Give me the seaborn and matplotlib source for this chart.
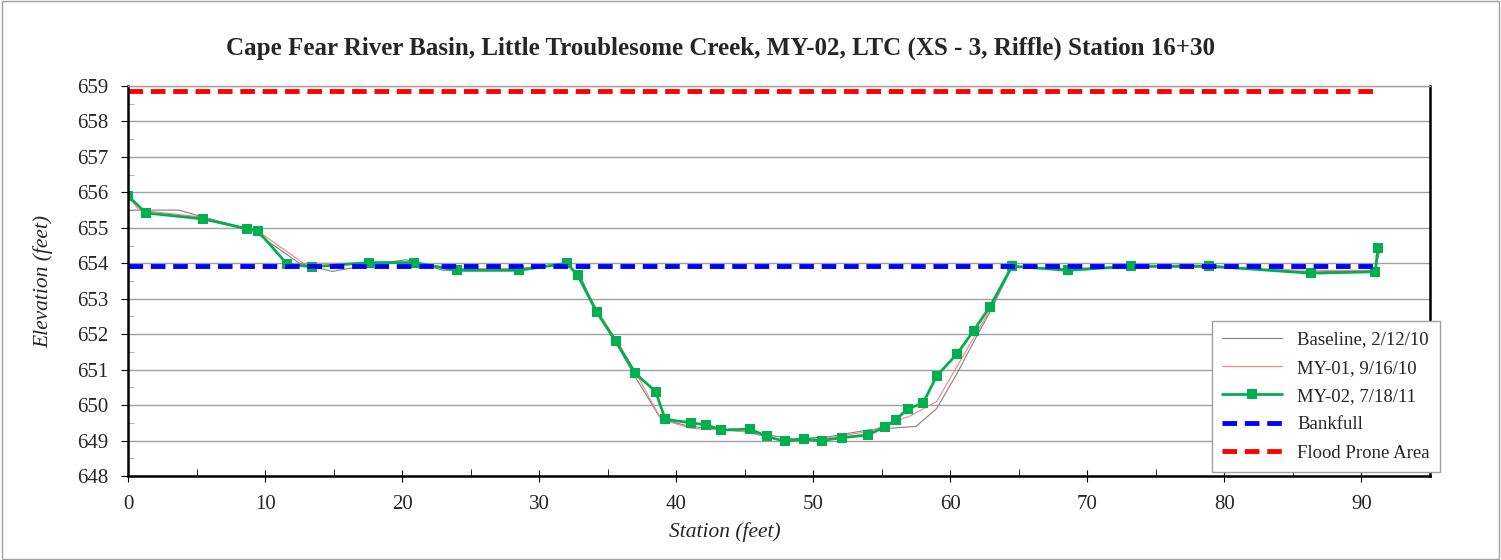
import matplotlib
matplotlib.use("Agg")
import matplotlib.pyplot as plt
from matplotlib.ticker import MultipleLocator
import seaborn as sns
import pandas as pd

# Baseline survey, 2/12/10
base_sta = [0.0, 3.7, 6.0, 9.0, 12.5, 14.9, 17.5, 20.3, 23.0, 28.5, 32.0, 33.0, 34.2, 35.6,
            37.0, 38.9, 41.0, 45.0, 48.5, 51.0, 54.0, 57.5, 59.0, 60.5, 62.0, 63.0, 64.5,
            68.6, 73.2, 79.0, 86.3, 91.0, 91.3]
base_elev = [655.5, 655.5, 655.25, 654.95, 654.0, 653.77, 653.95, 654.1, 653.8, 653.85, 654.0,
             653.65, 652.6, 651.75, 650.8, 649.6, 649.4, 649.25, 649.05, 649.1, 649.3, 649.4,
             649.9, 650.9, 652.0, 652.7, 653.9, 653.85, 653.9, 653.9, 653.75, 653.8, 654.3]

# MY-01, 9/16/10
my01_sta = [0.0, 0.8, 5.5, 8.7, 9.5, 12.8, 17.6, 21.0, 24.0, 28.5, 32.0, 32.8, 34.2, 35.6,
            37.0, 38.9, 41.0, 45.0, 47.7, 50.6, 54.0, 57.1, 59.0, 60.5, 62.0, 63.0, 64.5,
            68.6, 73.2, 79.0, 86.3, 91.0, 91.3]
my01_elev = [655.9, 655.5, 655.3, 654.97, 654.9, 654.0, 654.0, 654.0, 653.85, 653.85, 653.98,
             653.7, 652.7, 651.85, 650.95, 649.6, 649.35, 649.25, 649.0, 649.05, 649.25, 649.7,
             650.1, 651.1, 652.1, 652.75, 653.88, 653.85, 653.88, 653.88, 653.8, 653.8, 654.35]

# MY-02, 7/18/11
my02_sta = [0.0, 1.3, 5.5, 8.7, 9.5, 11.6, 13.4, 17.6, 20.9, 24.0, 28.5, 32.0, 32.8, 34.2,
            35.6, 37.0, 38.5, 39.2, 41.1, 42.2, 43.3, 45.4, 46.6, 47.9, 49.3, 50.6, 52.1,
            54.0, 55.2, 56.0, 56.9, 58.0, 59.0, 60.5, 61.7, 62.9, 64.5, 68.6, 73.2, 78.9,
            86.3, 91.0, 91.2]
my02_elev = [655.9, 655.42, 655.25, 654.97, 654.9, 653.98, 653.9, 654.02, 654.02, 653.8,
             653.8, 654.0, 653.67, 652.62, 651.8, 650.9, 650.38, 649.6, 649.5, 649.44, 649.3,
             649.32, 649.12, 648.98, 649.04, 649.0, 649.08, 649.16, 649.38, 649.58, 649.9,
             650.05, 650.82, 651.45, 652.1, 652.78, 653.92, 653.8, 653.92, 653.92, 653.72,
             653.76, 654.42]

bankfull_sta = [0.0, 91.3]
bankfull_elev = [653.92, 653.92]
flood_sta = [0.0, 91.3]
flood_elev = [658.86, 658.86]

title = "Cape Fear River Basin, Little Troublesome Creek, MY-02, LTC (XS - 3, Riffle) Station 16+30"

sns.set_style("white")
plt.rcParams["font.family"] = ["Liberation Serif", "DejaVu Serif"]

fig = plt.figure(figsize=(15.01, 5.6), dpi=100)
ax = fig.add_axes([0.0853, 0.15, 0.8674, 0.6964])

base_df = pd.DataFrame({"sta": base_sta, "elev": base_elev})
my01_df = pd.DataFrame({"sta": my01_sta, "elev": my01_elev})
my02_df = pd.DataFrame({"sta": my02_sta, "elev": my02_elev})

sns.lineplot(data=base_df, x="sta", y="elev", ax=ax, color="#808080", lw=0.8,
             sort=False, label="Baseline, 2/12/10")
sns.lineplot(data=my01_df, x="sta", y="elev", ax=ax, color="#FF8080", lw=0.8,
             sort=False, label="MY-01, 9/16/10")
sns.lineplot(data=my02_df, x="sta", y="elev", ax=ax, color="#00B050", lw=2,
             marker="s", markersize=7, markeredgewidth=0, sort=False,
             label="MY-02, 7/18/11")
ax.plot(bankfull_sta, bankfull_elev, color="#0000FF", lw=3.5, ls=(0, (3, 1.6)),
        label="Bankfull")
ax.plot(flood_sta, flood_elev, color="#FF0000", lw=3.5, ls=(0, (3, 1.6)),
        label="Flood Prone Area")

ax.set_xlim(0, 95)
ax.set_ylim(648, 659)
ax.xaxis.set_major_locator(MultipleLocator(10))
ax.xaxis.set_minor_locator(MultipleLocator(5))
ax.yaxis.set_major_locator(MultipleLocator(1))
ax.yaxis.set_minor_locator(MultipleLocator(0.5))
ax.grid(axis="y", which="major", color="#A0A0A0", lw=1)
ax.set_axisbelow(True)

for side in ["left", "bottom", "right"]:
    ax.spines[side].set_color("black")
    ax.spines[side].set_linewidth(1.8)
ax.spines["top"].set_color("#A0A0A0")
ax.spines["top"].set_linewidth(1)

ax.tick_params(axis="y", which="major", labelsize=15, length=5, color="black",
               direction="out", pad=9, left=True)
ax.tick_params(axis="y", which="minor", length=4, color="#A0A0A0", direction="in",
               left=True)
ax.tick_params(axis="x", which="major", labelsize=15, direction="inout", length=8,
               color="black", pad=10, bottom=True)
ax.tick_params(axis="x", which="minor", direction="in", length=5, color="black",
               bottom=True)

ax.set_xlabel("Station (feet)", fontsize=15.5, style="italic")
ax.xaxis.set_label_coords(0.4585, -0.118)
ax.set_ylabel("Elevation (feet)", fontsize=15.5, style="italic", labelpad=17)
fig.text(0.48, 0.914, title, ha="center", va="center", fontsize=18, fontweight="bold")

leg = ax.legend(loc="lower right", bbox_to_anchor=(1.0077, 0.01), borderaxespad=0,
                fontsize=13.5, frameon=True, fancybox=False, edgecolor="#A0A0A0",
                framealpha=1, handlelength=3.2, borderpad=0.55, labelspacing=0.6)
leg.get_frame().set_linewidth(1)

fig.patches.append(plt.Rectangle((0.001, 0.001), 0.998, 0.997, transform=fig.transFigure,
                                 fill=False, edgecolor="#A0A0A0", lw=1))

fig.savefig("out.png", dpi=100)
